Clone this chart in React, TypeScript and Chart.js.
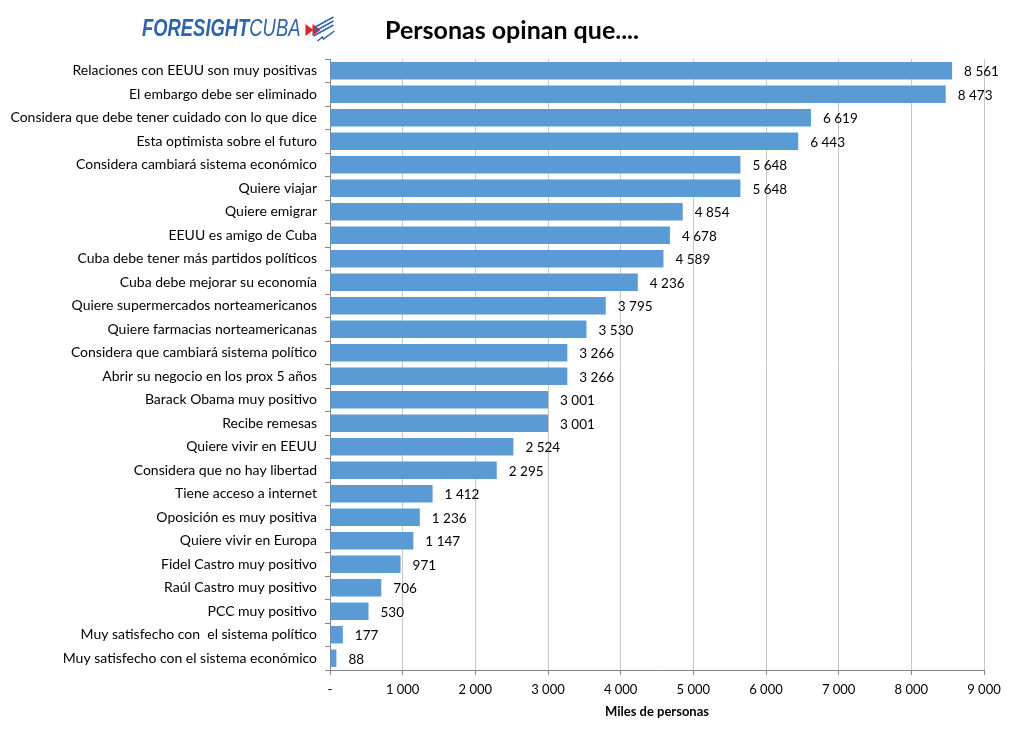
import React, { useEffect, useRef } from "react";
import { Chart, registerables } from "chart.js";

Chart.register(...registerables);

const categories = [
  "Relaciones con EEUU son muy positivas",
  "El embargo debe ser eliminado",
  "Considera que debe tener cuidado con lo que dice",
  "Esta optimista sobre el futuro",
  "Considera cambiará sistema económico",
  "Quiere viajar",
  "Quiere emigrar",
  "EEUU es amigo de Cuba",
  "Cuba debe tener más partidos políticos",
  "Cuba debe mejorar su economía",
  "Quiere supermercados norteamericanos",
  "Quiere farmacias norteamericanas",
  "Considera que cambiará sistema político",
  "Abrir su negocio en los prox 5 años",
  "Barack Obama muy positivo",
  "Recibe remesas",
  "Quiere vivir en EEUU",
  "Considera que no hay libertad",
  "Tiene acceso a internet",
  "Oposición es muy positiva",
  "Quiere vivir en Europa",
  "Fidel Castro muy positivo",
  "Raúl Castro muy positivo",
  "PCC muy positivo",
  "Muy satisfecho con  el sistema político",
  "Muy satisfecho con el sistema económico",
];

const values = [
  8561, 8473, 6619, 6443, 5648, 5648, 4854, 4678, 4589, 4236, 3795, 3530, 3266,
  3266, 3001, 3001, 2524, 2295, 1412, 1236, 1147, 971, 706, 530, 177, 88,
];

const xTicks = [0, 1000, 2000, 3000, 4000, 5000, 6000, 7000, 8000, 9000];

const chartTitle = "Personas opinan que....";
const axisTitle = "Miles de personas";
const brandBold = "FORESIGHT";
const brandLight = "CUBA";

const FONT = "Lato, 'Open Sans', sans-serif";

const fmt = (v: number) => {
  if (v === 0) return "-";
  const s = String(Math.round(v));
  return s.replace(/\B(?=(\d{3})+(?!\d))/g, " ");
};

// Draws the value next to the end of each bar
const valueLabels = {
  id: "valueLabels",
  afterDatasetsDraw(chart: any) {
    const { ctx } = chart;
    const meta = chart.getDatasetMeta(0);
    ctx.save();
    ctx.font = `13.5px ${FONT}`;
    ctx.fillStyle = "#000";
    ctx.textAlign = "left";
    ctx.textBaseline = "middle";
    meta.data.forEach((bar: any, i: number) => {
      ctx.fillText(fmt(values[i]), bar.x + 12, bar.y + 1);
    });
    ctx.restore();
  },
};

// Header: brand mark and chart heading
const header = {
  id: "header",
  afterDraw(chart: any) {
    const { ctx } = chart;
    ctx.save();
    // heading
    ctx.font = `bold 25px ${FONT}`;
    ctx.fillStyle = "#000";
    ctx.textAlign = "center";
    ctx.textBaseline = "middle";
    ctx.fillText(chartTitle, 504, 23);

    // brand name, horizontally condensed
    const bx = 134;
    const by = 22;
    const sx = 0.8;
    ctx.save();
    ctx.translate(bx, by);
    ctx.scale(sx, 1);
    ctx.textAlign = "left";
    ctx.fillStyle = "#2e63ad";
    ctx.font = `italic bold 23px 'Liberation Sans', sans-serif`;
    ctx.fillText(brandBold, 0, 0);
    const w1 = ctx.measureText(brandBold).width;
    ctx.font = `italic 23px 'Liberation Sans', sans-serif`;
    ctx.fillText(brandLight, w1, 0);
    const w2 = ctx.measureText(brandLight).width;
    ctx.restore();

    // brand icon: red chevrons with blue stripes
    const ix = bx + (w1 + w2) * sx + 5;
    ctx.fillStyle = "#d62b2b";
    for (let k = 0; k < 2; k++) {
      const ox = ix + k * 7;
      ctx.beginPath();
      ctx.moveTo(ox, by - 6);
      ctx.lineTo(ox + 8, by);
      ctx.lineTo(ox, by + 6);
      ctx.closePath();
      ctx.fill();
    }
    ctx.strokeStyle = "#2e63ad";
    ctx.lineWidth = 1.5;
    for (let k = 0; k < 3; k++) {
      const oy = k * 4;
      ctx.beginPath();
      ctx.moveTo(ix + 8, by - 2 + oy);
      ctx.lineTo(ix + 28, by - 13 + oy);
      ctx.stroke();
    }
    ctx.beginPath();
    ctx.moveTo(ix + 12, by + 11);
    ctx.lineTo(ix + 17, by + 7);
    ctx.lineTo(ix + 18, by + 9);
    ctx.lineTo(ix + 29, by + 1);
    ctx.stroke();
    ctx.restore();
  },
};

export default function App() {
  const ref = useRef<HTMLCanvasElement | null>(null);

  useEffect(() => {
    if (!ref.current) return;
    const chart = new Chart(ref.current, {
      type: "bar",
      data: {
        labels: categories,
        datasets: [
          {
            data: values,
            backgroundColor: "#5b9bd5",
            borderWidth: 0,
            categoryPercentage: 1,
            barPercentage: 0.74,
          },
        ],
      },
      options: {
        indexAxis: "y",
        animation: false,
        responsive: true,
        maintainAspectRatio: false,
        layout: { padding: { top: 51, right: 32, left: 0, bottom: 0 } },
        plugins: {
          legend: { display: false },
          tooltip: { enabled: false },
          title: { display: false },
        },
        scales: {
          x: {
            min: 0,
            max: 9000,
            afterBuildTicks: (scale: any) => {
              scale.ticks = xTicks.map((v) => ({ value: v }));
            },
            afterFit: (scale: any) => {
              scale.height = 64;
            },
            ticks: {
              callback: (v: any) => fmt(Number(v)),
              color: "#000",
              font: { family: FONT, size: 13 },
              padding: 7,
              maxRotation: 0,
            },
            grid: {
              color: "#c8c8c8",
              tickColor: "#868686",
              tickLength: 5,
            },
            border: { color: "#868686" },
            title: {
              display: true,
              text: axisTitle,
              color: "#000",
              font: { family: FONT, size: 13, weight: "bold" },
              padding: { top: 0, bottom: 14 },
            },
          },
          y: {
            afterFit: (scale: any) => {
              scale.width = 322;
            },
            ticks: {
              color: "#000",
              font: { family: FONT, size: 14 },
              padding: 8,
              autoSkip: false,
            },
            grid: {
              offset: true,
              drawOnChartArea: false,
              drawTicks: true,
              tickLength: 5,
              tickColor: "#868686",
            },
            border: { color: "#868686" },
          },
        },
      },
      plugins: [valueLabels, header],
    });
    return () => chart.destroy();
  }, []);

  return (
    <div style={{ width: "1008px", height: "726px", position: "relative" }}>
      <canvas ref={ref} />
    </div>
  );
}
